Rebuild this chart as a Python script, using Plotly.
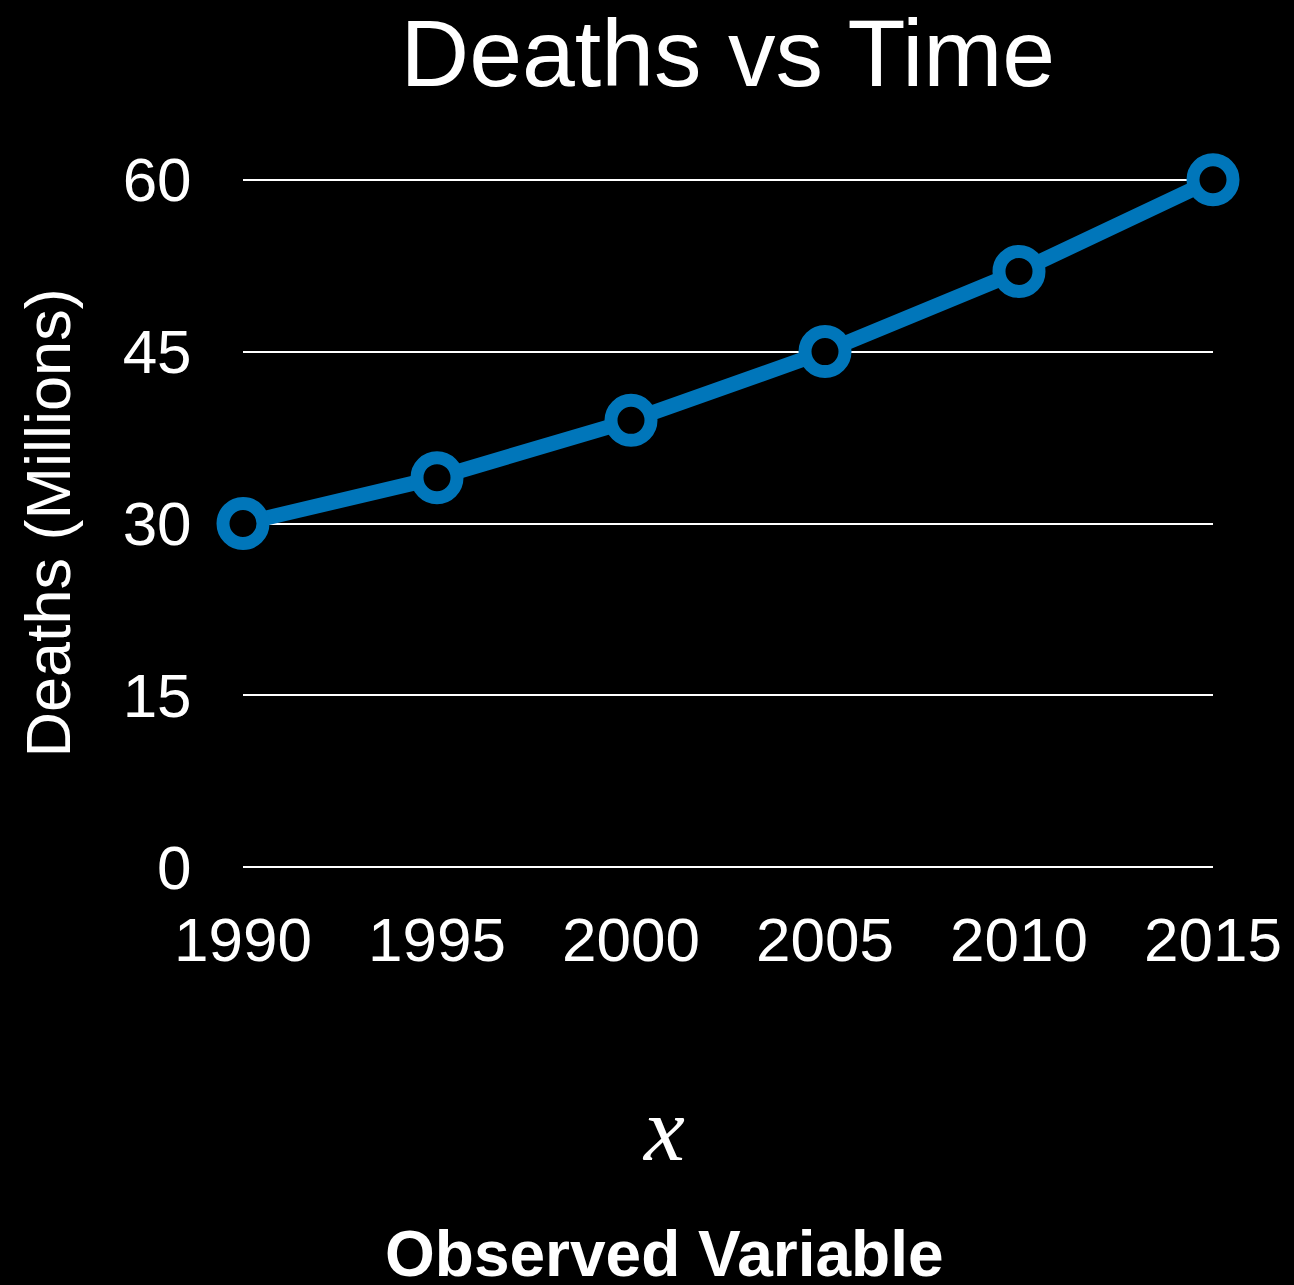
import plotly.graph_objects as go

# Deaths over time
years = [1990, 1995, 2000, 2005, 2010, 2015]
deaths = [30, 34, 39, 45, 52, 60]
y_ticks = [0, 15, 30, 45, 60]

BLUE = "#0076BA"
FONT = "Liberation Sans, Arial, Helvetica, sans-serif"

# small padding so the 0 and 60 gridlines are still drawn
PAD = 0.15

fig = go.Figure()
fig.add_trace(go.Scatter(
    x=years,
    y=deaths,
    mode="lines+markers",
    line=dict(color=BLUE, width=15),
    marker=dict(size=40, color="black", line=dict(color=BLUE, width=13)),
    cliponaxis=False,
    hoverinfo="skip",
))

fig.update_layout(
    width=1294,
    height=1285,
    paper_bgcolor="black",
    plot_bgcolor="black",
    showlegend=False,
    margin=dict(l=243, r=81, t=178, b=416),
    font=dict(family=FONT, color="white"),
    title=dict(
        text="Deaths vs Time",
        font=dict(size=95, family=FONT, color="white"),
        x=0.5625, xref="container", xanchor="center",
        y=1 - 86 / 1285, yref="container", yanchor="bottom",
        pad=dict(t=0, b=0),
    ),
)

fig.update_xaxes(
    range=[1990, 2015],
    tickvals=years,
    ticktext=[str(v) for v in years],
    tickfont=dict(size=62, family=FONT, color="white"),
    showgrid=False,
    zeroline=False,
    showline=False,
    ticks="outside",
    ticklen=17,
    tickcolor="rgba(0,0,0,0)",
)
fig.update_yaxes(
    range=[-PAD, 60 + PAD],
    tickvals=y_ticks,
    tickfont=dict(size=62, family=FONT, color="white"),
    showgrid=True,
    gridcolor="white",
    gridwidth=2,
    zeroline=False,
    showline=False,
    ticks="outside",
    ticklen=38,
    tickcolor="rgba(0,0,0,0)",
)

# y-axis label
fig.add_annotation(
    text="Deaths (Millions)",
    xref="paper", yref="paper",
    x=(47 - 243) / 970, y=0.5,
    xanchor="center", yanchor="middle",
    textangle=-90,
    showarrow=False,
    font=dict(size=63, family=FONT, color="white"),
)

# variable symbol
fig.add_annotation(
    text="<i>x</i>",
    xref="paper", yref="paper",
    x=(663 - 243) / 970, y=(867 - 1126) / 689,
    xanchor="center", yanchor="middle",
    showarrow=False,
    font=dict(size=92, family="Liberation Serif, Times New Roman, serif", color="white"),
)

# x-axis caption
fig.add_annotation(
    text="<b>Observed Variable</b>",
    xref="paper", yref="paper",
    x=(664 - 243) / 970, y=(867 - 1251) / 689,
    xanchor="center", yanchor="middle",
    showarrow=False,
    font=dict(size=64, family=FONT, color="white"),
)

fig.write_html("out.html")
